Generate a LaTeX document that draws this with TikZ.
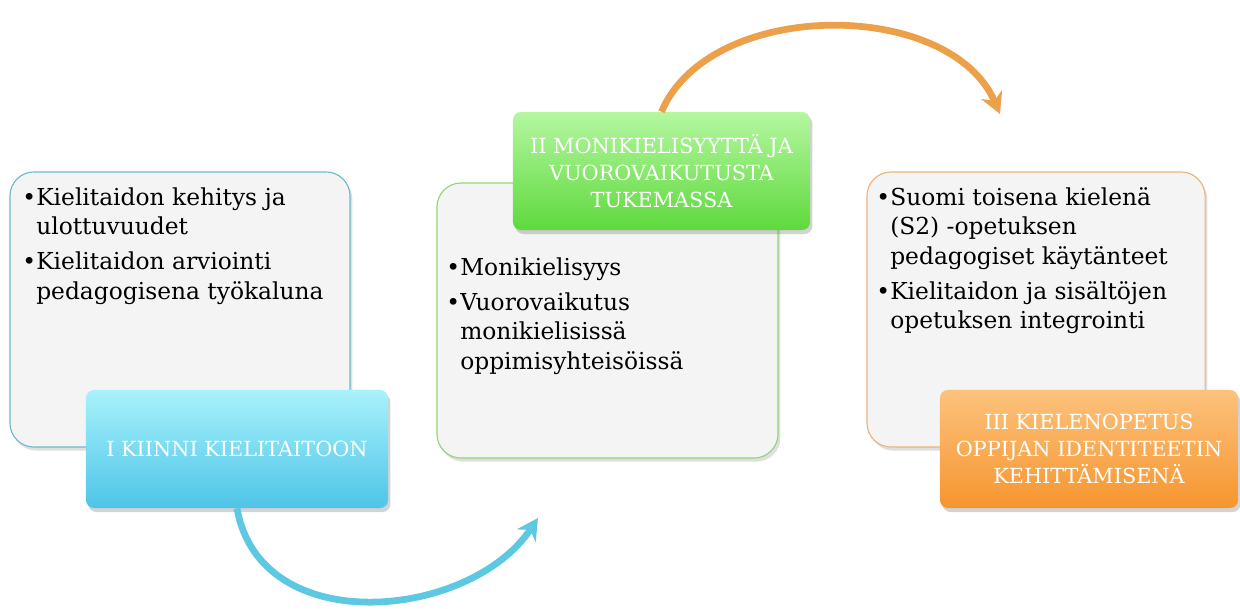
\documentclass[tikz,border=0pt]{standalone}
\usepackage{fontspec}
\setmainfont{DejaVu Serif}
\usetikzlibrary{arrows.meta,shadows}

\definecolor{cardfill}{HTML}{F4F4F4}
\definecolor{blueline}{HTML}{6DB9CC}
\definecolor{greenline}{HTML}{93D574}
\definecolor{orangeline}{HTML}{EFB27C}
\definecolor{bluetop}{HTML}{A8F2FB}
\definecolor{bluebot}{HTML}{4EC4E8}
\definecolor{greentop}{HTML}{B4F7A0}
\definecolor{greenbot}{HTML}{5FD93D}
\definecolor{orangetop}{HTML}{FCC27C}
\definecolor{orangebot}{HTML}{F6952F}
\definecolor{bluearrow}{HTML}{5CC8E2}
\definecolor{orangearrow}{HTML}{EDA04A}

\newcommand\bul{\makebox[0.6em][l]{\textbullet}}
\newcommand\ind{\hspace*{0.6em}}

\begin{document}
\begin{tikzpicture}[
  x=0.025cm, y=-0.025cm,
  card/.style={rounded corners=0.6cm, line width=0.8pt, fill=cardfill,
               minimum height=6.875cm, inner sep=0pt,
               drop shadow={opacity=0.25, shadow xshift=0.6mm, shadow yshift=-0.9mm}},
  tag/.style={rounded corners=0.2cm, draw=none, minimum height=2.95cm,
              text=white, align=center, inner sep=0pt,
              font=\fontsize{14.8}{19}\selectfont,
              drop shadow={opacity=0.35, shadow xshift=0.6mm, shadow yshift=-1mm}},
  txt/.style={anchor=north west, align=left, inner sep=0pt,
              font=\fontsize{16.6}{21}\selectfont},
  arr/.style={-{Stealth[length=15pt, width=16pt]}, line width=4.8pt},
]
\useasboundingbox (0,0) rectangle (1240,608);

\node[card, draw=blueline, minimum width=8.5cm] (c1) at (180,309.5) {};
\node[card, draw=greenline, minimum width=8.525cm] (c2) at (607.5,320.5) {};
\node[card, draw=orangeline, minimum width=8.45cm] (c3) at (1036,309.5) {};

\node[txt] (t1) at (22,187) {\bul Kielitaidon kehitys ja\\\ind ulottuvuudet\\[4pt]
  \bul Kielitaidon arviointi\\\ind pedagogisena työkaluna};
\node[txt] (t2) at (446,257) {\bul Monikielisyys\\[4pt]
  \bul Vuorovaikutus\\\ind monikielisissä\\\ind oppimisyhteisöissä};
\node[txt] (t3) at (876,187) {\bul Suomi toisena kielenä\\\ind (S2) -opetuksen\\\ind pedagogiset käytänteet\\[4pt]
  \bul Kielitaidon ja sisältöjen\\\ind opetuksen integrointi};

\node[tag, top color=bluetop, bottom color=bluebot, minimum width=7.55cm] (k1) at (237,449)
  {I KIINNI KIELITAITOON};
\node[tag, top color=greentop, bottom color=greenbot, minimum width=7.425cm] (k2) at (661.5,171)
  {II MONIKIELISYYTTÄ JA\\VUOROVAIKUTUSTA\\TUKEMASSA};
\node[tag, top color=orangetop, bottom color=orangebot, minimum width=7.45cm] (k3) at (1089,449)
  {III KIELENOPETUS\\OPPIJAN IDENTITEETIN\\KEHITTÄMISENÄ};

\coordinate (e1) at (538,518);
\coordinate (e2) at (1000,114);
\draw[arr, bluearrow] (k1.south) .. controls (260,640) and (470,620) .. (e1);
\draw[arr, orangearrow] (k2.north) .. controls (710,-2) and (950,-2) .. (e2);
\end{tikzpicture}
\end{document}
